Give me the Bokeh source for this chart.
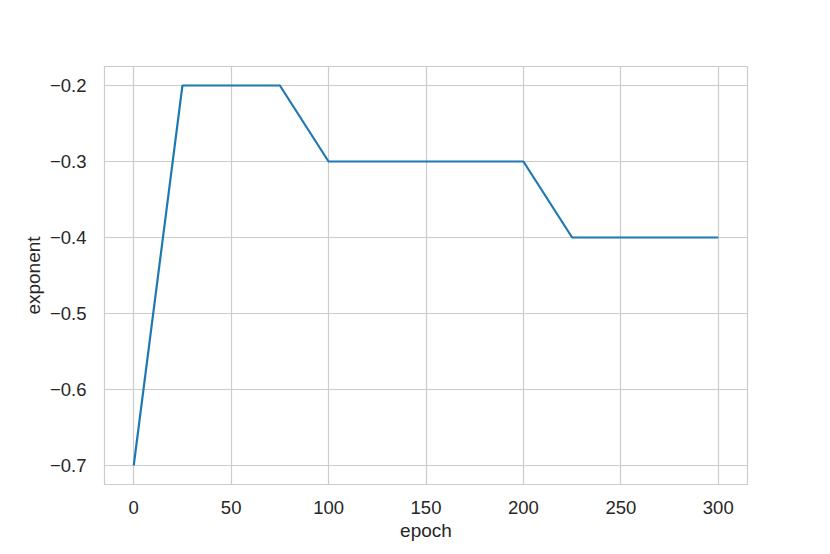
from bokeh.plotting import figure
from bokeh.models import Range1d, FixedTicker
from bokeh.embed import file_html
from bokeh.resources import INLINE

epoch = [0, 25, 75, 100, 200, 225, 300]
exponent = [-0.7, -0.2, -0.2, -0.3, -0.3, -0.4, -0.4]

x_ticks = [0, 50, 100, 150, 200, 250, 300]
y_ticks = [-0.7, -0.6, -0.5, -0.4, -0.3, -0.2]
y_labels = ["\u22120.7", "\u22120.6", "\u22120.5", "\u22120.4", "\u22120.3", "\u22120.2"]

p = figure(width=822, height=546, output_backend="svg", toolbar_location=None,
           x_range=Range1d(-15, 315), y_range=Range1d(-0.725, -0.175),
           min_border_left=104, min_border_right=75, min_border_top=66, min_border_bottom=62)

p.line(epoch, exponent, line_color="#1f77b4", line_width=2.2)

font = "Liberation Sans"
p.xaxis.ticker = FixedTicker(ticks=x_ticks)
p.yaxis.ticker = FixedTicker(ticks=y_ticks)
p.yaxis.major_label_overrides = {t: l for t, l in zip(y_ticks, y_labels)}
p.xaxis.axis_label = "epoch"
p.yaxis.axis_label = "exponent"
for ax in (p.xaxis, p.yaxis):
    ax.axis_line_color = None
    ax.major_tick_line_color = None
    ax.minor_tick_line_color = None
    ax.major_label_text_font = font
    ax.major_label_text_font_size = "18.5px"
    ax.major_label_text_color = "#262626"
    ax.axis_label_text_font = font
    ax.axis_label_text_font_size = "19px"
    ax.axis_label_text_font_style = "normal"
    ax.axis_label_text_color = "#262626"
    ax.axis_label_standoff = 3
p.yaxis.major_label_standoff = 12
p.xaxis.major_label_standoff = 10

p.grid.grid_line_color = "#cccccc"
p.grid.grid_line_width = 1.2
p.outline_line_color = "#cccccc"
p.outline_line_width = 1.2
p.background_fill_color = "white"
p.border_fill_color = "white"

open("out.html", "w").write(file_html(p, INLINE))
